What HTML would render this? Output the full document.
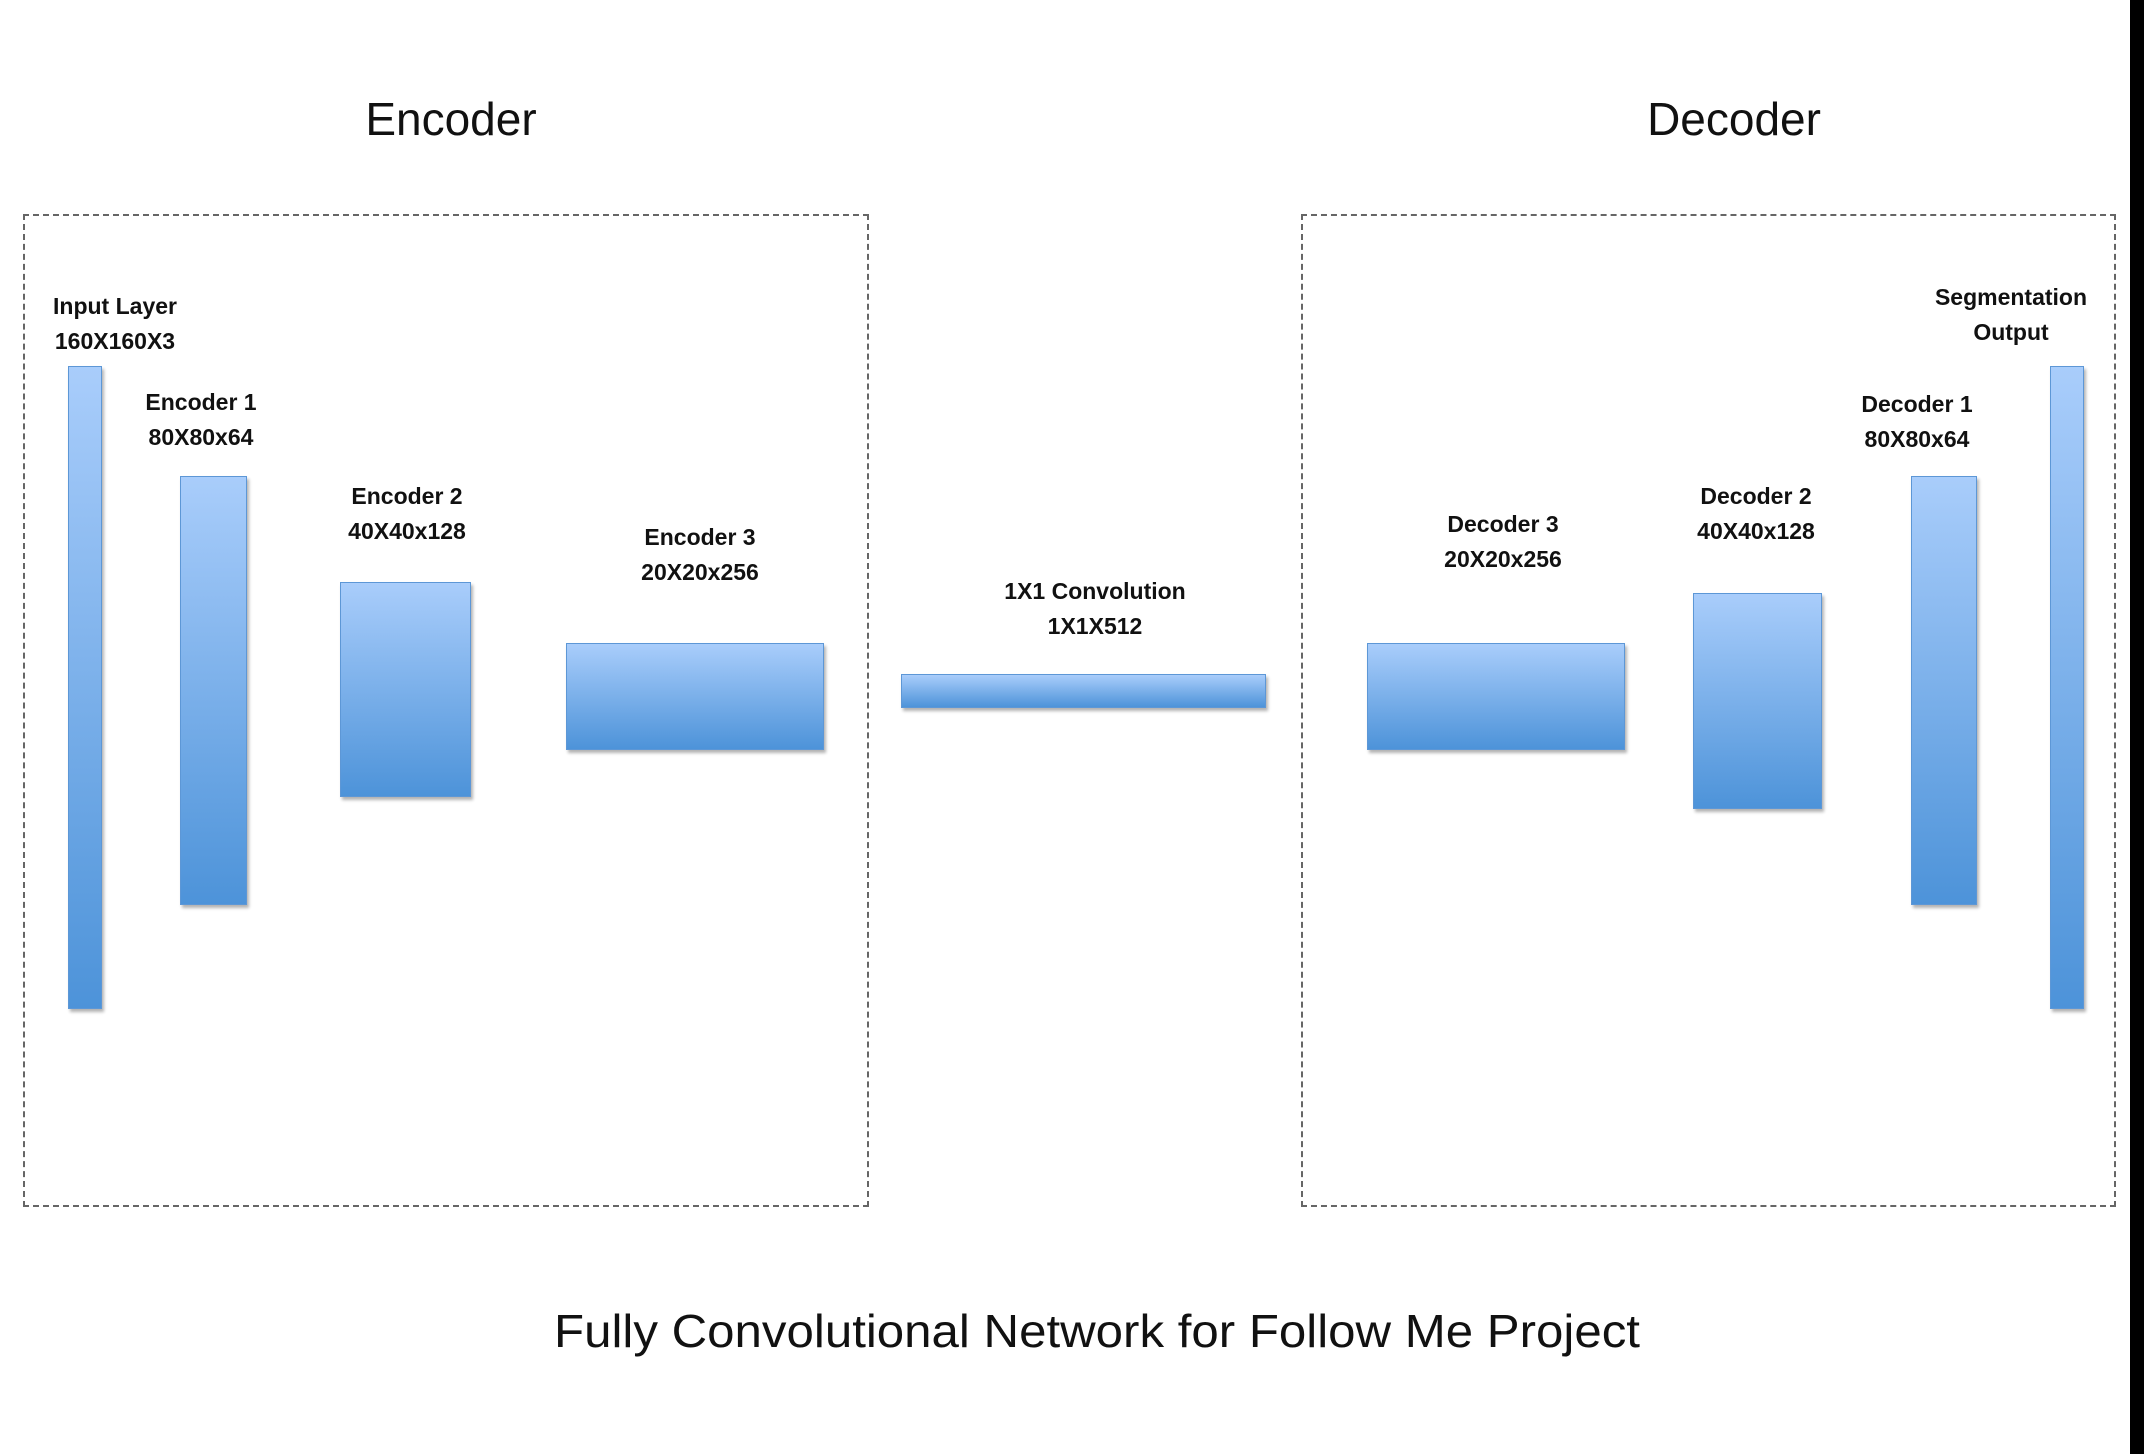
<!DOCTYPE html>
<html><head><style>
body{margin:0;width:2144px;height:1454px;background:#fff;position:relative;overflow:hidden;font-family:"Liberation Sans",sans-serif;}
.box{position:absolute;border:2px dashed #666;box-sizing:border-box;}
.bar{position:absolute;box-sizing:border-box;border:1.5px solid #5d97d6;background:linear-gradient(#a9cdfb,#4d93d9);box-shadow:2px 3px 3px rgba(0,0,0,0.3);}
.t{position:absolute;text-align:center;font-size:46px;color:#111;transform:translateX(-50%);white-space:nowrap;}
.l{position:absolute;text-align:center;font-weight:bold;font-size:23px;line-height:35px;color:#111;transform:translateX(-50%);white-space:nowrap;}
</style></head><body>
<div style="position:absolute;left:2130px;top:0;width:14px;height:1454px;background:#000"></div>
<div class="t" style="left:451px;top:92px">Encoder</div>
<div class="t" style="left:1734px;top:92px">Decoder</div>
<div class="t" style="left:1097px;top:1304px;font-size:46px;transform:translateX(-50%) scaleX(1.07)">Fully Convolutional Network for Follow Me Project</div>
<div class="box" style="left:23px;top:214px;width:846px;height:993px"></div>
<div class="box" style="left:1301px;top:214px;width:815px;height:993px"></div>
<div class="bar" style="left:68px;top:366px;width:34px;height:643px"></div>
<div class="bar" style="left:180px;top:476px;width:67px;height:429px"></div>
<div class="bar" style="left:340px;top:582px;width:131px;height:215px"></div>
<div class="bar" style="left:566px;top:643px;width:258px;height:107px"></div>
<div class="bar" style="left:901px;top:674px;width:365px;height:34px"></div>
<div class="bar" style="left:1367px;top:643px;width:258px;height:107px"></div>
<div class="bar" style="left:1693px;top:593px;width:129px;height:216px"></div>
<div class="bar" style="left:1911px;top:476px;width:66px;height:429px"></div>
<div class="bar" style="left:2050px;top:366px;width:34px;height:643px"></div>
<div class="l" style="left:115px;top:289px">Input Layer<br>160X160X3</div>
<div class="l" style="left:201px;top:385px">Encoder 1<br>80X80x64</div>
<div class="l" style="left:407px;top:479px">Encoder 2<br>40X40x128</div>
<div class="l" style="left:700px;top:520px">Encoder 3<br>20X20x256</div>
<div class="l" style="left:1095px;top:574px">1X1 Convolution<br>1X1X512</div>
<div class="l" style="left:1503px;top:507px">Decoder 3<br>20X20x256</div>
<div class="l" style="left:1756px;top:479px">Decoder 2<br>40X40x128</div>
<div class="l" style="left:1917px;top:387px">Decoder 1<br>80X80x64</div>
<div class="l" style="left:2011px;top:280px">Segmentation<br>Output</div>
</body></html>
